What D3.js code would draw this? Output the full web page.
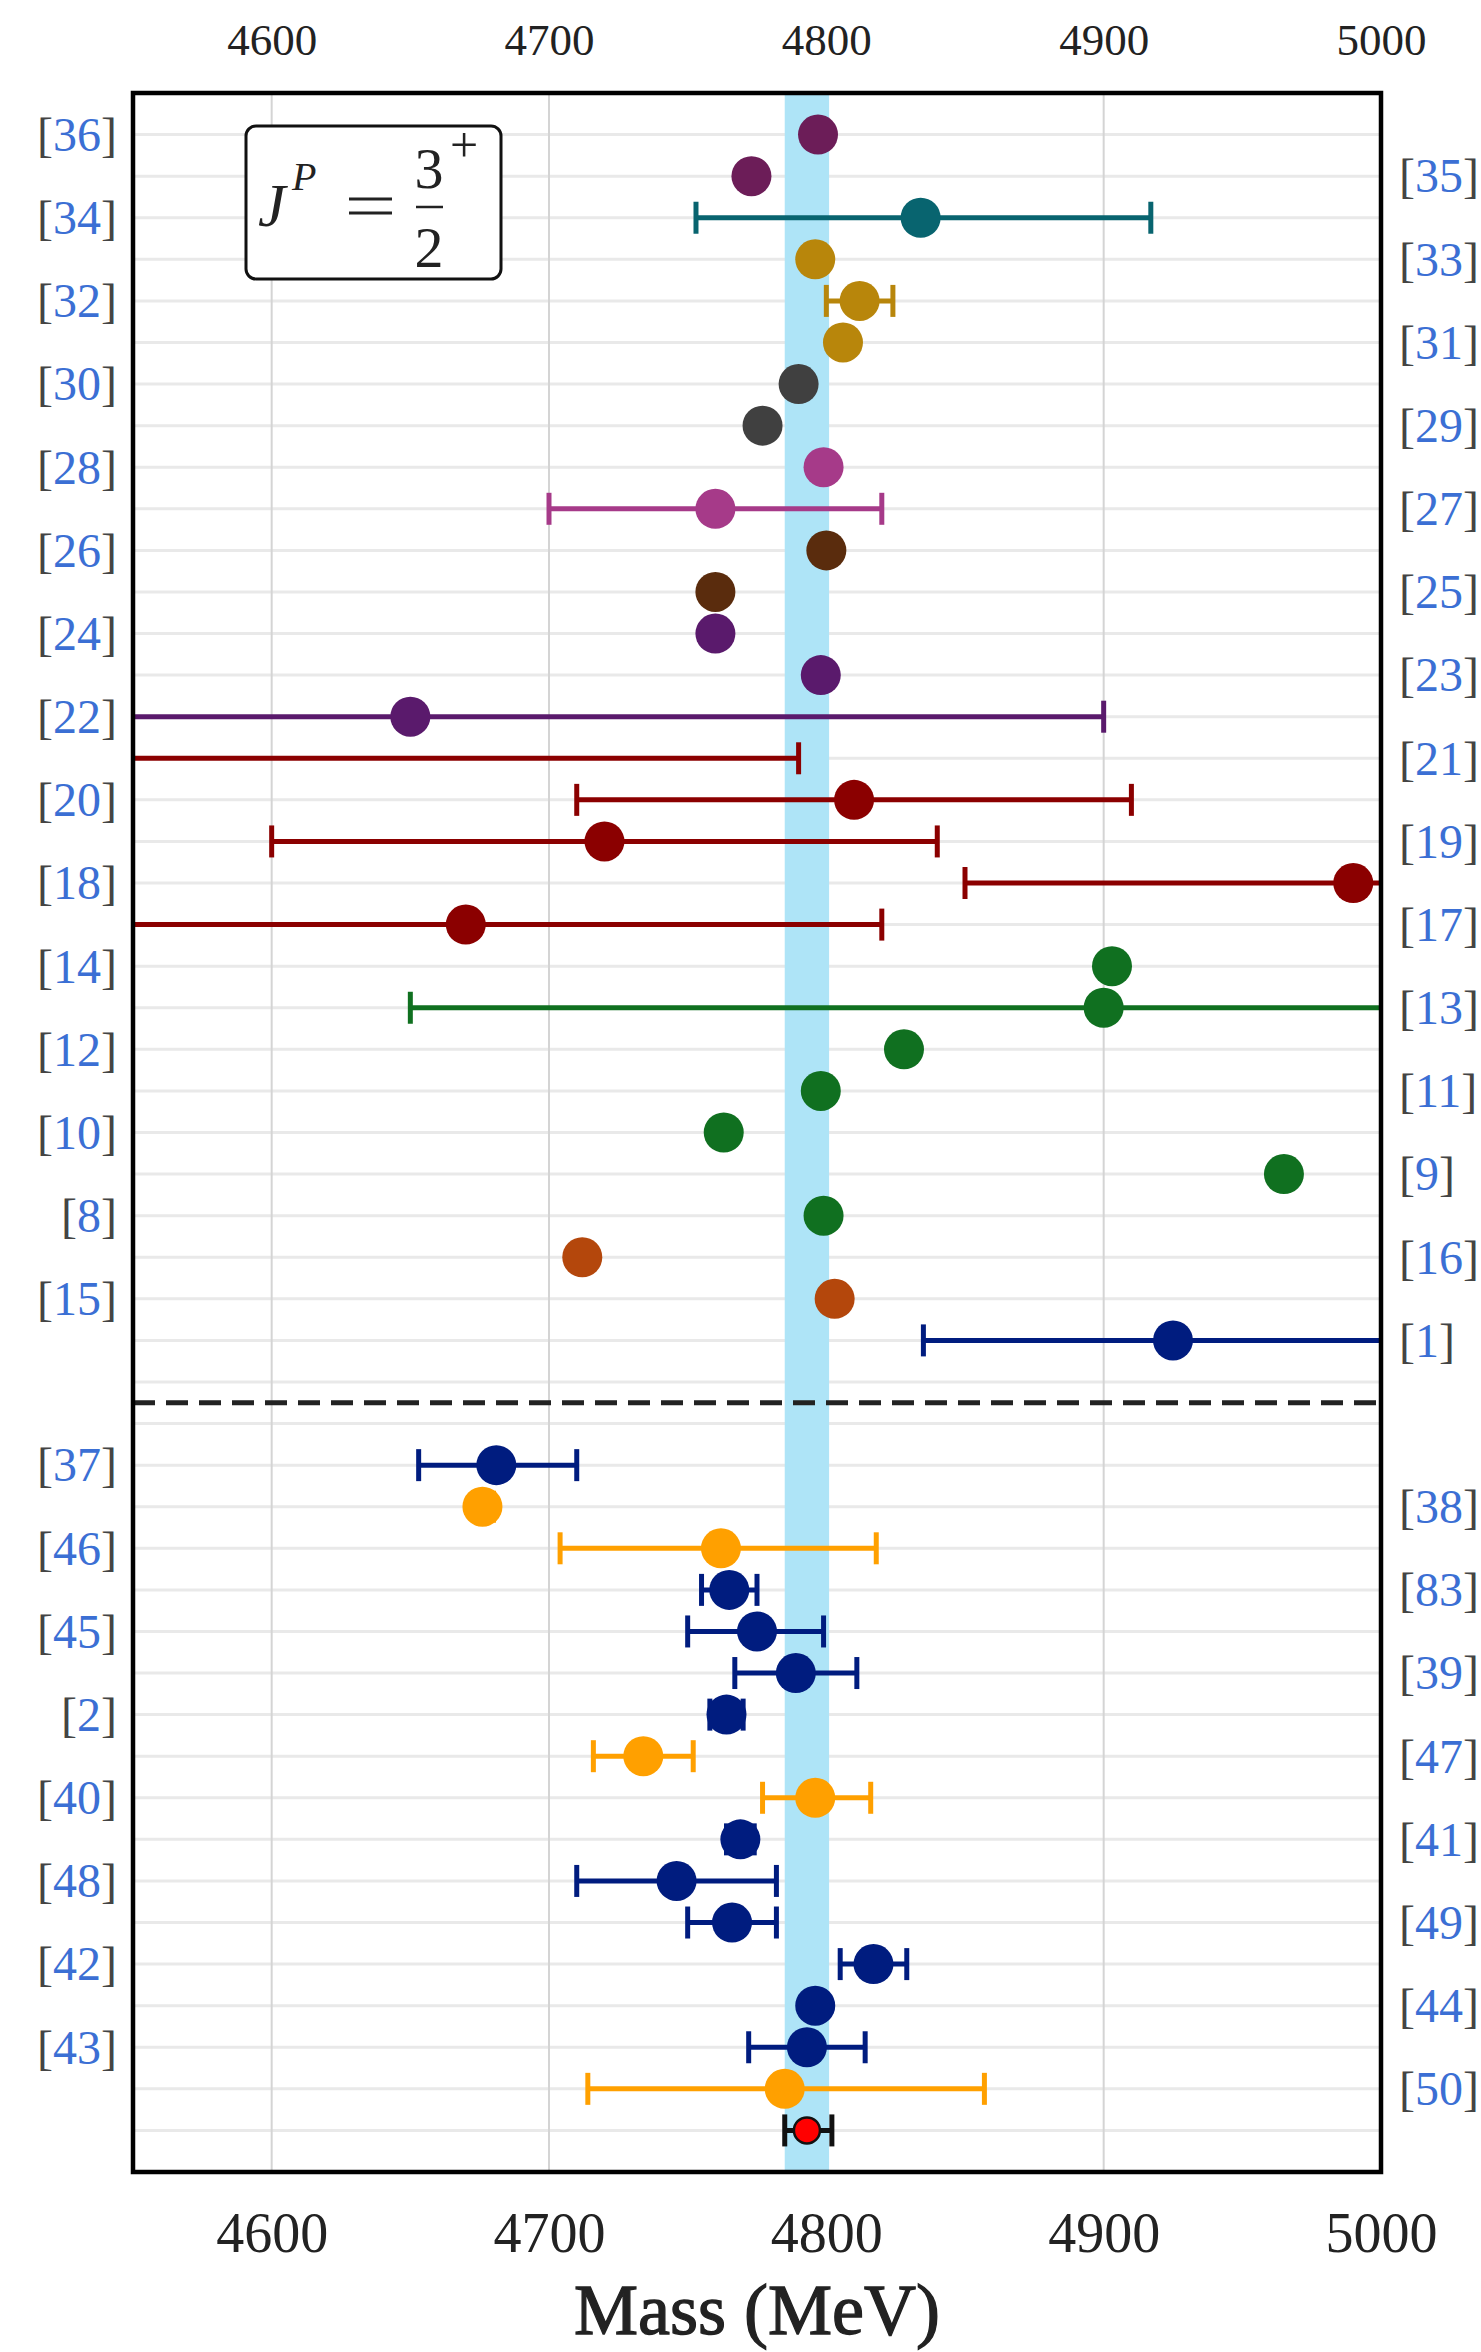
<!DOCTYPE html>
<html>
<head>
<meta charset="utf-8">
<script src="https://cdn.jsdelivr.net/npm/d3@7"></script>
<style>
  html, body { margin: 0; padding: 0; background: #fff; }
  #chart { width: 1481px; height: 2352px; }
  text { font-family: "Liberation Serif", "DejaVu Serif", serif; }
</style>
</head>
<body>
<div id="chart"></div>
<script>
// reference labels, one per row (top block, above the dashed line)
const topRefs = ["36","35","34","33","32","31","30","29","28","27","26","25","24","23","22",
                 "21","20","19","18","17","14","13","12","11","10","9","8","16","15","1"];
const topMass = [4797,4773,4834,4796,4812,4806,4790,4777,4799,4760,4800,4760,4760,4798,4650,
                 4500,4810,4720,4990,4670,4903,4900,4828,4798,4763,4965,4799,4712,4803,4925];
const topLow  = [null,null,4753,null,4800,null,null,null,null,4700,null,null,null,null,4400,
                 4210,4710,4600,4850,4520,null,4650,null,null,null,null,null,null,null,4835];
const topHigh = [null,null,4917,null,4824,null,null,null,null,4820,null,null,null,null,4900,
                 4790,4910,4840,5130,4820,null,5150,null,null,null,null,null,null,null,5015];
const topColor = ["#6c1d58","#6c1d58","#08646f","#b8860b","#b8860b","#b8860b","#404040","#404040",
                  "#a63a89","#a63a89","#5a2c0d","#5a2c0d","#5a1a6c","#5a1a6c","#5a1a6c",
                  "#8b0000","#8b0000","#8b0000","#8b0000","#8b0000",
                  "#107020","#107020","#107020","#107020","#107020","#107020","#107020",
                  "#b4470c","#b4470c","#001c7f"];

// bottom block (below the dashed line), last row is the red point with no label
const botRefs = ["37","38","46","83","45","39","2","47","40","41","48","49","42","44","43","50",""];
const botMass = [4681,4676,4762,4765,4775,4789,4764,4734,4796,4769,4746,4766,4817,4796,4793,4785,4793];
const botLow  = [4653,4673,4704,4755,4750,4767,4758,4716,4777,4764,4710,4750,4805,null,4772,4714,4785];
const botHigh = [4710,4680,4818,4775,4799,4811,4770,4752,4816,4774,4782,4782,4829,null,4814,4857,4802];
const botColor = ["#001c7f","#ffa000","#ffa000","#001c7f","#001c7f","#001c7f","#001c7f","#ffa000",
                  "#ffa000","#001c7f","#001c7f","#001c7f","#001c7f","#001c7f","#001c7f","#ffa000","#ff0000"];

const xTicks = [4600, 4700, 4800, 4900, 5000];
const band = [4785, 4801];
const xDomain = [4550, 5000];

document.addEventListener('DOMContentLoaded', function () {
    const W = 1481, H = 2352;
    const left = 133, right = 1381, top = 93, bottom = 2172;
    const botStart = 32;   // first row index of the lower block
    const nRows = botStart + botRefs.length;

    const svg = d3.select('#chart').append('svg')
        .attr('width', W).attr('height', H);

    const x = d3.scaleLinear().domain(xDomain).range([left, right]);
    const y = d3.scaleLinear().domain([-1, 49]).range([top, bottom]);

    // build rows from the arrays
    const rows = [];
    topRefs.forEach((r, i) => rows.push({row: i, ref: r, m: topMass[i], lo: topLow[i], hi: topHigh[i], c: topColor[i]}));
    botRefs.forEach((r, i) => rows.push({row: botStart + i, ref: r, m: botMass[i], lo: botLow[i], hi: botHigh[i], c: botColor[i]}));

    svg.append('defs').append('clipPath').attr('id', 'clip')
        .append('rect').attr('x', left).attr('y', top).attr('width', right - left).attr('height', bottom - top);

    const plot = svg.append('g').attr('clip-path', 'url(#clip)');

    // horizontal grid, one line per row
    plot.selectAll('.hgrid').data(d3.range(0, nRows)).enter()
        .append('line').attr('class', 'hgrid')
        .attr('x1', left).attr('x2', right)
        .attr('y1', d => y(d)).attr('y2', d => y(d))
        .attr('stroke', '#e9e9e9').attr('stroke-width', 3);

    // vertical grid
    plot.selectAll('.vgrid').data(xTicks).enter()
        .append('line').attr('class', 'vgrid')
        .attr('x1', d => x(d)).attr('x2', d => x(d))
        .attr('y1', top).attr('y2', bottom)
        .attr('stroke', '#d4d4d4').attr('stroke-width', 2);

    // world average band
    plot.append('rect')
        .attr('x', x(band[0])).attr('width', x(band[1]) - x(band[0]))
        .attr('y', top).attr('height', bottom - top)
        .attr('fill', '#aee4f7');

    // dashed separator
    plot.append('line')
        .attr('x1', left).attr('x2', right)
        .attr('y1', y(30.5)).attr('y2', y(30.5))
        .attr('stroke', '#222').attr('stroke-width', 5)
        .attr('stroke-dasharray', '22,11');

    // error bars
    const errRows = rows.filter(d => d.lo !== null);
    const eb = plot.selectAll('.err').data(errRows).enter().append('g').attr('class', 'err')
        .attr('stroke', d => d.ref === '' ? '#111' : d.c).attr('stroke-width', 5);
    eb.append('line')
        .attr('x1', d => x(d.lo)).attr('x2', d => x(d.hi))
        .attr('y1', d => y(d.row)).attr('y2', d => y(d.row));
    eb.append('line')
        .attr('x1', d => x(d.lo)).attr('x2', d => x(d.lo))
        .attr('y1', d => y(d.row) - 16).attr('y2', d => y(d.row) + 16);
    eb.append('line')
        .attr('x1', d => x(d.hi)).attr('x2', d => x(d.hi))
        .attr('y1', d => y(d.row) - 16).attr('y2', d => y(d.row) + 16);

    // markers
    plot.selectAll('.dot').data(rows).enter()
        .append('circle').attr('class', 'dot')
        .attr('cx', d => x(d.m)).attr('cy', d => y(d.row))
        .attr('r', d => d.ref === '' ? 13 : 20)
        .attr('fill', d => d.c)
        .attr('stroke', d => d.ref === '' ? '#111' : 'none')
        .attr('stroke-width', 2.5);

    // frame
    svg.append('rect')
        .attr('x', left).attr('y', top).attr('width', right - left).attr('height', bottom - top)
        .attr('fill', 'none').attr('stroke', '#000').attr('stroke-width', 4.5);

    // axes: labels only, no tick marks
    const topAxis = svg.append('g').attr('transform', `translate(0,${top})`)
        .call(d3.axisTop(x).tickValues(xTicks).tickSize(0).tickPadding(38).tickFormat(d3.format('d')));
    topAxis.select('.domain').remove();
    topAxis.selectAll('text').attr('font-size', 45).attr('fill', '#222')
        .style('font-family', '"Liberation Serif", serif');

    const botAxis = svg.append('g').attr('transform', `translate(0,${bottom})`)
        .call(d3.axisBottom(x).tickValues(xTicks).tickSize(0).tickPadding(40).tickFormat(d3.format('d')));
    botAxis.select('.domain').remove();
    botAxis.selectAll('text').attr('font-size', 56).attr('fill', '#222')
        .style('font-family', '"Liberation Serif", serif');

    svg.append('text')
        .attr('x', (left + right) / 2).attr('y', 2334)
        .attr('text-anchor', 'middle')
        .attr('font-size', 72).attr('fill', '#222')
        .attr('stroke', '#222').attr('stroke-width', 1.3)
        .text('Mass (MeV)');

    // reference labels, alternating left / right
    const labels = svg.selectAll('.ref').data(rows.filter(d => d.ref !== '')).enter()
        .append('text').attr('class', 'ref')
        .attr('x', d => d.row % 2 === 0 ? left - 16 : right + 18)
        .attr('y', d => y(d.row))
        .attr('dy', '0.34em')
        .attr('text-anchor', d => d.row % 2 === 0 ? 'end' : 'start')
        .attr('font-size', 48);
    labels.append('tspan').attr('fill', '#444').text('[');
    labels.append('tspan').attr('fill', '#3b6fd4').text(d => d.ref);
    labels.append('tspan').attr('fill', '#444').text(']');

    // J^P = 3+/2 box
    const box = svg.append('g');
    box.append('rect')
        .attr('x', 246).attr('y', 126).attr('width', 255).attr('height', 153).attr('rx', 10)
        .attr('fill', '#fff').attr('stroke', '#111').attr('stroke-width', 3);
    box.append('text').attr('x', 258).attr('y', 226).attr('font-size', 62)
        .attr('font-style', 'italic').attr('fill', '#222').text('J');
    box.append('text').attr('x', 292).attr('y', 190).attr('font-size', 40)
        .attr('font-style', 'italic').attr('fill', '#222').text('P');
    // equals sign drawn as two strokes
    box.append('line').attr('x1', 349).attr('x2', 392).attr('y1', 199).attr('y2', 199)
        .attr('stroke', '#222').attr('stroke-width', 3);
    box.append('line').attr('x1', 349).attr('x2', 392).attr('y1', 213).attr('y2', 213)
        .attr('stroke', '#222').attr('stroke-width', 3);
    box.append('text').attr('x', 429).attr('y', 188).attr('font-size', 58)
        .attr('text-anchor', 'middle').attr('fill', '#222').text('3');
    box.append('line').attr('x1', 416).attr('x2', 443).attr('y1', 207).attr('y2', 207)
        .attr('stroke', '#222').attr('stroke-width', 2.5);
    box.append('text').attr('x', 429).attr('y', 267).attr('font-size', 58)
        .attr('text-anchor', 'middle').attr('fill', '#222').text('2');
    box.append('text').attr('x', 464).attr('y', 162).attr('font-size', 50)
        .attr('text-anchor', 'middle').attr('fill', '#222').text('+');
});
</script>
</body>
</html>
